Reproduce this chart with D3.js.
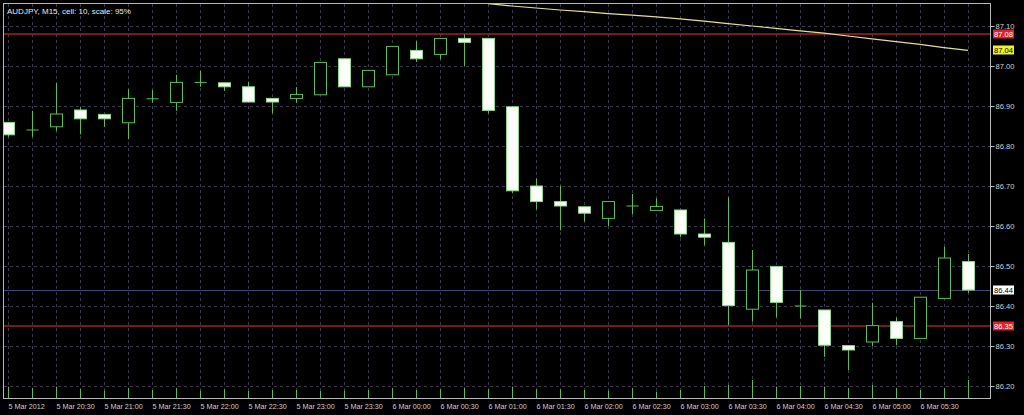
<html>
<head>
<title>AUDJPY, M15</title>
<style>
  body { margin: 0; background: #000; }
  svg { display: block; }
</style>
</head>
<body>
<script src="https://d3js.org/d3.v7.min.js"></script>
<script>
// 15 minute bars, 5 Mar 20:00 -> 6 Mar 06:00
var times = ["5 Mar 20:00","5 Mar 20:15","5 Mar 20:30","5 Mar 20:45","5 Mar 21:00","5 Mar 21:15",
             "5 Mar 21:30","5 Mar 21:45","5 Mar 22:00","5 Mar 22:15","5 Mar 22:30","5 Mar 22:45",
             "5 Mar 23:00","5 Mar 23:15","5 Mar 23:30","5 Mar 23:45","6 Mar 00:00","6 Mar 00:15",
             "6 Mar 00:30","6 Mar 00:45","6 Mar 01:00","6 Mar 01:15","6 Mar 01:30","6 Mar 01:45",
             "6 Mar 02:00","6 Mar 02:15","6 Mar 02:30","6 Mar 02:45","6 Mar 03:00","6 Mar 03:15",
             "6 Mar 03:30","6 Mar 03:45","6 Mar 04:00","6 Mar 04:15","6 Mar 04:30","6 Mar 04:45",
             "6 Mar 05:00","6 Mar 05:15","6 Mar 05:30","6 Mar 05:45","6 Mar 06:00"];
var opens  = [86.859,86.840,86.848,86.890,86.879,86.858,86.918,86.909,86.959,86.958,86.948,86.919,
              86.919,86.928,87.018,86.948,86.978,87.039,87.029,87.069,87.069,86.898,86.700,86.661,
              86.648,86.619,86.650,86.639,86.640,86.580,86.559,86.392,86.499,86.400,86.390,86.301,
              86.310,86.361,86.319,86.419,86.511];
var highs  = [86.860,86.888,86.957,86.897,86.879,86.942,86.940,86.978,86.988,86.958,86.961,86.919,
              86.947,87.010,87.018,86.990,87.050,87.062,87.070,87.079,87.070,86.900,86.719,86.700,
              86.648,86.661,86.680,86.669,86.640,86.619,86.672,86.540,86.500,86.440,86.390,86.301,
              86.408,86.371,86.422,86.548,86.530];
var lows   = [86.823,86.823,86.838,86.829,86.848,86.817,86.908,86.888,86.948,86.938,86.910,86.882,
              86.908,86.928,86.948,86.948,86.978,87.010,87.017,87.000,86.882,86.682,86.642,86.589,
              86.611,86.600,86.630,86.639,86.572,86.552,86.352,86.361,86.372,86.369,86.273,86.240,
              86.300,86.302,86.319,86.419,86.433];
var closes = [86.828,86.840,86.880,86.868,86.868,86.919,86.918,86.959,86.959,86.948,86.910,86.910,
              86.929,87.009,86.948,86.989,87.049,87.018,87.069,87.059,86.889,86.688,86.661,86.650,
              86.632,86.661,86.650,86.649,86.580,86.572,86.401,86.490,86.409,86.400,86.302,86.290,
              86.351,86.319,86.422,86.520,86.440];
var volumes = [113,97,113,90,73,97,80,97,73,87,70,80,80,70,73,80,97,80,87,103,87,113,87,87,80,73,
               97,63,80,120,130,180,113,120,113,97,130,97,80,97,180];

// moving average, known from bar 20 onwards
var maTimes  = times.slice(20);
var maValues = [87.156,87.150,87.145,87.140,87.136,87.131,87.127,87.123,87.118,87.112,87.106,
                87.100,87.094,87.088,87.082,87.075,87.068,87.061,87.054,87.046,87.039];

var priceTicks = [86.20,86.30,86.40,86.50,86.60,86.70,86.80,86.90,87.00,87.10];
var timeTicks  = ["5 Mar 20:00","5 Mar 20:30","5 Mar 21:00","5 Mar 21:30","5 Mar 22:00","5 Mar 22:30",
                  "5 Mar 23:00","5 Mar 23:30","6 Mar 00:00","6 Mar 00:30","6 Mar 01:00","6 Mar 01:30",
                  "6 Mar 02:00","6 Mar 02:30","6 Mar 03:00","6 Mar 03:30","6 Mar 04:00","6 Mar 04:30",
                  "6 Mar 05:00","6 Mar 05:30"];
var timeTickLabels = ["5 Mar 2012","5 Mar 20:30","5 Mar 21:00","5 Mar 21:30","5 Mar 22:00","5 Mar 22:30",
                      "5 Mar 23:00","5 Mar 23:30","6 Mar 00:00","6 Mar 00:30","6 Mar 01:00","6 Mar 01:30",
                      "6 Mar 02:00","6 Mar 02:30","6 Mar 03:00","6 Mar 03:30","6 Mar 04:00","6 Mar 04:30",
                      "6 Mar 05:00","6 Mar 05:30"];

var redLevels = [87.08, 86.35];
var bidLevel = 86.44;
var maLast = 87.04;
var title = "AUDJPY, M15, cell: 10, scale: 95%";

var data = times.map(function(t, i) {
  return { t: t, o: opens[i], h: highs[i], l: lows[i], c: closes[i], v: volumes[i] };
});

var w = 1024, h = 415;
var pL = 4, pT = 4, pR = 990, pB = 398;
var green = "#58c058";
var font = "'Liberation Sans', Arial, sans-serif";

var svg = d3.select("body").append("svg")
            .attr("width", w)
            .attr("height", h)
            .style("background", "#000");

var x = d3.scalePoint().domain(times).range([8, 968]);
var y = d3.scaleLinear().domain([86.20, 87.10]).range([386, 26]);
var vScale = d3.scaleLinear().domain([0, 180]).range([0, 18]);

svg.append("clipPath").attr("id", "plot")
   .append("rect")
   .attr("x", pL).attr("y", pT)
   .attr("width", pR - pL).attr("height", pB - pT);

var plot = svg.append("g").attr("clip-path", "url(#plot)");

// grid
plot.selectAll("line.hgrid")
    .data(priceTicks)
    .enter().append("line")
    .attr("class", "hgrid")
    .attr("x1", pL).attr("x2", pR)
    .attr("y1", function(d){ return Math.round(y(d)) + 0.5; })
    .attr("y2", function(d){ return Math.round(y(d)) + 0.5; })
    .attr("stroke", "#3a3a4c")
    .attr("stroke-dasharray", "3,3");
plot.selectAll("line.vgrid")
    .data(times)
    .enter().append("line")
    .attr("class", "vgrid")
    .attr("x1", function(d){ return x(d) + 0.5; })
    .attr("x2", function(d){ return x(d) + 0.5; })
    .attr("y1", pT).attr("y2", pB)
    .attr("stroke", "#3a3a4c")
    .attr("stroke-dasharray", "3,3");

// horizontal levels
plot.append("line")
    .attr("x1", pL).attr("x2", pR)
    .attr("y1", y(bidLevel) + 0.5).attr("y2", y(bidLevel) + 0.5)
    .attr("stroke", "#454575");
plot.selectAll("line.red")
    .data(redLevels)
    .enter().append("line")
    .attr("class", "red")
    .attr("x1", pL).attr("x2", pR)
    .attr("y1", function(d){ return y(d); })
    .attr("y2", function(d){ return y(d); })
    .attr("stroke", "#a02323")
    .attr("stroke-width", 1.6);

// moving average
var maLine = d3.line()
               .x(function(d, i){ return x(maTimes[i]); })
               .y(function(d){ return y(d); });
plot.append("path")
    .attr("d", maLine(maValues))
    .attr("fill", "none")
    .attr("stroke", "#e6dc9a")
    .attr("stroke-width", 1.2);

// volumes
plot.selectAll("line.vol")
    .data(data)
    .enter().append("line")
    .attr("class", "vol")
    .attr("x1", function(d){ return x(d.t) + 0.5; })
    .attr("x2", function(d){ return x(d.t) + 0.5; })
    .attr("y1", pB)
    .attr("y2", function(d){ return pB - vScale(d.v); })
    .attr("stroke", green);

// candles
var candles = plot.selectAll("g.candle")
                  .data(data)
                  .enter().append("g")
                  .attr("class", "candle");
candles.append("line")
       .attr("x1", function(d){ return x(d.t) + 0.5; })
       .attr("x2", function(d){ return x(d.t) + 0.5; })
       .attr("y1", function(d){ return y(d.h); })
       .attr("y2", function(d){ return y(d.l); })
       .attr("stroke", green);
candles.filter(function(d){ return d.o !== d.c; })
       .append("rect")
       .attr("x", function(d){ return x(d.t) - 5.5; })
       .attr("y", function(d){ return y(Math.max(d.o, d.c)); })
       .attr("width", 12)
       .attr("height", function(d){ return Math.abs(y(d.o) - y(d.c)); })
       .attr("fill", function(d){ return d.c < d.o ? "#fbfff8" : "#000"; })
       .attr("stroke", function(d){ return d.c < d.o ? "#8fd68f" : green; });
candles.filter(function(d){ return d.o === d.c; })
       .append("line")
       .attr("x1", function(d){ return x(d.t) - 5.5; })
       .attr("x2", function(d){ return x(d.t) + 6.5; })
       .attr("y1", function(d){ return y(d.o); })
       .attr("y2", function(d){ return y(d.o); })
       .attr("stroke", green);

// frame
svg.append("rect")
   .attr("x", pL - 0.5).attr("y", pT - 0.5)
   .attr("width", pR - pL + 1).attr("height", pB - pT + 1)
   .attr("fill", "none")
   .attr("stroke", "#b8b8b8");

// price axis
var yAxis = d3.axisRight(y)
              .tickValues(priceTicks)
              .tickSize(4)
              .tickPadding(1)
              .tickFormat(d3.format(".2f"));
svg.append("g")
   .attr("class", "y axis")
   .attr("transform", "translate(" + (pR + 0.5) + ",0)")
   .call(yAxis)
   .call(function(g){
     g.select(".domain").remove();
     g.selectAll("line").attr("stroke", "#b8b8b8");
     g.selectAll("text").attr("fill", "#cfcfcf").style("font", "7.6px " + font);
   });

// time axis
var xAxis = d3.axisBottom(x)
              .tickValues(timeTicks)
              .tickSize(0)
              .tickPadding(6)
              .tickFormat(function(d){ return timeTickLabels[timeTicks.indexOf(d)]; });
svg.append("g")
   .attr("class", "x axis")
   .attr("transform", "translate(0," + pB + ")")
   .call(xAxis)
   .call(function(g){
     g.select(".domain").remove();
     g.selectAll("text").attr("fill", "#cfcfcf").attr("text-anchor", "start")
      .style("font", "7.2px " + font);
   });

// price tags on the right
var tags = [
  { v: redLevels[0], bg: "#e02222", fg: "#ffffff" },
  { v: maLast, bg: "#f2f226", fg: "#000000" },
  { v: bidLevel, bg: "#ffffff", fg: "#000000" },
  { v: redLevels[1], bg: "#e02222", fg: "#ffffff" }
];
var tag = svg.selectAll("g.tag").data(tags).enter().append("g").attr("class", "tag");
tag.append("rect")
   .attr("x", 993).attr("width", 21)
   .attr("y", function(d){ return y(d.v) - 4.5; })
   .attr("height", 9)
   .attr("fill", function(d){ return d.bg; });
tag.append("text")
   .attr("x", 994)
   .attr("y", function(d){ return y(d.v); })
   .attr("dy", "0.35em")
   .attr("fill", function(d){ return d.fg; })
   .style("font", "7.6px " + font)
   .text(function(d){ return d3.format(".2f")(d.v); });

// title
svg.append("text")
   .attr("x", 7).attr("y", 14)
   .attr("fill", "#e8e8e8")
   .style("font", "8px " + font)
   .text(title);
</script>
</body>
</html>
